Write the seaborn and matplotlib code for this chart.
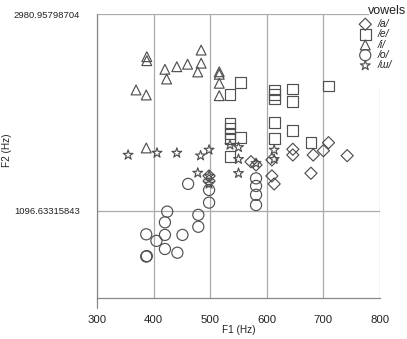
import numpy as np
import pandas as pd
import seaborn as sns
import matplotlib.pyplot as plt
from matplotlib.patches import Rectangle
from matplotlib.ticker import FixedLocator, NullFormatter

a_f1 = [498, 498, 572, 581, 609, 609, 613, 646, 646, 682, 678, 700, 709, 742]
a_f2 = [1310, 1277, 1408, 1385, 1421, 1310, 1258, 1500, 1457, 1457, 1328, 1489, 1551, 1452]

e_f1 = [553, 535, 613, 613, 613, 646, 646, 709, 535, 535, 535, 535, 553, 535, 613, 613, 646, 678]
e_f2 = [2103, 1982, 2027, 1982, 1936, 2037, 1910, 2068, 1711, 1669, 1626, 1586, 1591, 1445,
        1716, 1583, 1648, 1551]

i_f1 = [388, 388, 420, 423, 441, 460, 484, 484, 478, 369, 387, 516, 516, 516, 516, 387]
i_f2 = [2400, 2352, 2251, 2143, 2281, 2310, 2482, 2322, 2221, 2027, 1976, 2223, 2195, 2097,
        1969, 1510]

o_f1 = [461, 498, 498, 424, 420, 387, 420, 405, 451, 479, 479, 420, 442, 387, 388,
        581, 581, 581, 581]
o_f2 = [1258, 1220, 1144, 1093, 1035, 974, 971, 942, 971, 1075, 1012, 904, 887, 870, 872,
        1294, 1245, 1190, 1130]

u_f1 = [355, 406, 441, 483, 498, 478, 498, 498, 535, 550, 550, 550, 581, 613, 613]
u_f2 = [1457, 1472, 1472, 1452, 1495, 1330, 1310, 1258, 1533, 1515, 1426, 1328, 1397,
        1495, 1426]

vowels = ['/a/', '/e/', '/i/', '/o/', '/ɯ/']
markers = ['D', 's', '^', 'o', '*']
sizes = [38, 60, 50, 64, 55]

df = pd.concat([
    pd.DataFrame({'F1': f1, 'F2': f2, 'vowel': v})
    for f1, f2, v in zip([a_f1, e_f1, i_f1, o_f1, u_f1],
                         [a_f2, e_f2, i_f2, o_f2, u_f2], vowels)
])

sns.set_style('white')
plt.rcParams['font.family'] = ['Liberation Sans', 'DejaVu Sans']

fig = plt.figure(figsize=(4.07, 3.39), dpi=100)
ax = fig.add_axes([97 / 407, 1 - 298 / 339, 283 / 407, 284 / 339])

edge = '#505050'
for v, m, s in zip(vowels, markers, sizes):
    sns.scatterplot(data=df[df['vowel'] == v], x='F1', y='F2', marker=m, s=s,
                    facecolor='none', edgecolor=edge, linewidth=0.85, label=v, ax=ax,
                    zorder=3)

ax.set_yscale('log', base=np.e)
ax.set_xlim(300, 800)
ax.set_ylim(np.exp(6.558), np.exp(8))
ax.set_xticks(range(300, 801, 100))
ax.xaxis.set_minor_locator(FixedLocator(range(350, 800, 100)))
ax.set_yticks([np.exp(7), np.exp(8)])
ax.set_yticklabels(['1096.63315843', '2980.95798704'])
ax.yaxis.set_minor_locator(FixedLocator([np.exp(7.624)]))
ax.yaxis.set_minor_formatter(NullFormatter())

ax.grid(True, which='major', color='#aaaaaa', linewidth=0.9)
ax.set_axisbelow(True)
for side in ['top', 'right']:
    ax.spines[side].set_visible(False)
for side in ['left', 'bottom']:
    ax.spines[side].set_color('#888888')
    ax.spines[side].set_linewidth(0.9)
ax.plot([0, 0], [-0.035, 0], transform=ax.transAxes, clip_on=False,
        color='#888888', linewidth=0.9)

ax.tick_params(axis='x', which='major', length=3.6, width=0.8, color='#777777',
               labelsize=8.2, pad=8.5, labelcolor='#222222')
ax.tick_params(axis='x', which='minor', length=3.6, width=0.8, color='#777777')
ax.tick_params(axis='y', which='major', length=8.6, width=0.8, color='#777777',
               labelsize=6.8, pad=3.6, labelcolor='#222222')
ax.tick_params(axis='y', which='minor', length=3.5, width=0.8, color='#777777')

ax.set_xlabel('F1 (Hz)', fontsize=7.2, color='#222222', labelpad=0)
ax.set_ylabel('F2 (Hz)', fontsize=7.2, color='#222222')
ax.yaxis.set_label_coords(-0.3, 0.52)

ax.add_artist(Rectangle((369 / 407, 1 - 88 / 339), 40 / 407, 88 / 339,
                        transform=fig.transFigure, facecolor='white',
                        edgecolor='none', clip_on=False, zorder=4))
leg = ax.legend(loc='upper left', bbox_to_anchor=(359 / 407, 1 - 19 / 339),
                bbox_transform=fig.transFigure, frameon=False, fontsize=7.5,
                borderpad=0, borderaxespad=0, labelspacing=0.03,
                handletextpad=0.6, handlelength=1.2, scatterpoints=1)
leg.set_zorder(5)
for t in leg.get_texts():
    t.set_fontstyle('italic')
    t.set_color('#222222')
fig.text(368 / 407, 1 - 11 / 339, 'vowels', fontsize=9, color='#222222',
         va='center', ha='left')

fig.savefig('out.png', dpi=100)
